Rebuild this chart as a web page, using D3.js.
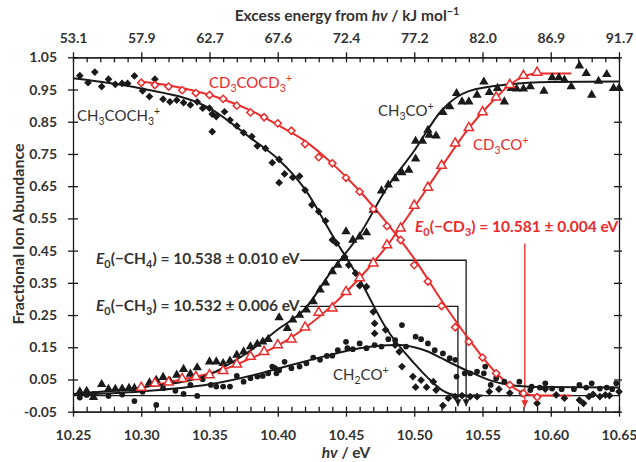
<!DOCTYPE html>
<html>
<head>
<meta charset="utf-8">
<script src="https://cdn.jsdelivr.net/npm/d3@7"></script>
<style>
  body { margin: 0; background: #fff; }
  text { font-family: Lato, "Open Sans", sans-serif; }
</style>
</head>
<body>
<script>
// axis ticks
var xTicks = [10.25, 10.30, 10.35, 10.40, 10.45, 10.50, 10.55, 10.60, 10.65];
var topLabels = ['53.1', '57.9', '62.7', '67.6', '72.4', '77.2', '82.0', '86.9', '91.7'];
var yTicks = [-0.05, 0.05, 0.15, 0.25, 0.35, 0.45, 0.55, 0.65, 0.75, 0.85, 0.95, 1.05];

// CH3COCH3+ (filled diamonds)
var acetoneHv = [10.255, 10.261, 10.266, 10.271, 10.276, 10.281, 10.286, 10.290, 10.295, 10.301,
  10.306, 10.310, 10.316, 10.321, 10.326, 10.331, 10.336, 10.341, 10.345, 10.350, 10.352, 10.352,
  10.355, 10.361, 10.365, 10.370, 10.375, 10.381, 10.385, 10.391, 10.396, 10.401, 10.401, 10.405,
  10.411, 10.416, 10.420, 10.425, 10.430, 10.435, 10.440, 10.443, 10.449, 10.452, 10.457, 10.460,
  10.465, 10.470, 10.471, 10.471, 10.479, 10.486, 10.489, 10.491, 10.499, 10.501, 10.505, 10.509,
  10.514, 10.516, 10.521, 10.525, 10.530, 10.535, 10.541, 10.546, 10.555, 10.562, 10.570, 10.579,
  10.590, 10.596, 10.604, 10.610, 10.621, 10.624, 10.628, 10.631, 10.636, 10.640, 10.643, 10.650];
var acetoneFrac = [0.993, 0.971, 1.004, 0.959, 0.982, 0.966, 0.969, 0.969, 0.992, 0.946,
  0.928, 0.982, 0.920, 0.912, 0.917, 0.909, 0.902, 0.912, 0.892, 0.892, 0.819, 0.874,
  0.866, 0.881, 0.855, 0.837, 0.816, 0.804, 0.775, 0.767, 0.723, 0.733, 0.661, 0.688,
  0.677, 0.681, 0.638, 0.592, 0.571, 0.542, 0.483, 0.473, 0.431, 0.405, 0.380, 0.341,
  0.338, 0.260, 0.224, 0.193, 0.204, 0.157, 0.136, 0.090, 0.059, 0.026, 0.048, 0.026,
  0.043, 0.017, -0.031, -0.008, -0.003, 0.000, -0.003, -0.003, 0.012, 0.020, 0.008, 0.007,
  -0.024, 0.020, 0.002, -0.008, -0.014, -0.024, -0.003, 0.004, -0.003, 0.002, 0.000, 0.012];

// CH3CO+ (filled triangles)
var acylHv = [10.255, 10.260, 10.265, 10.271, 10.276, 10.281, 10.286, 10.291, 10.295, 10.306,
  10.311, 10.316, 10.321, 10.326, 10.331, 10.336, 10.341, 10.350, 10.355, 10.360, 10.365, 10.370,
  10.375, 10.380, 10.385, 10.389, 10.393, 10.401, 10.407, 10.411, 10.416, 10.421, 10.426, 10.431,
  10.435, 10.440, 10.444, 10.449, 10.450, 10.455, 10.460, 10.465, 10.470, 10.476, 10.481, 10.486,
  10.491, 10.496, 10.501, 10.501, 10.506, 10.510, 10.511, 10.516, 10.521, 10.526, 10.531, 10.535,
  10.540, 10.546, 10.551, 10.555, 10.561, 10.566, 10.571, 10.575, 10.580, 10.585, 10.595, 10.601,
  10.606, 10.610, 10.615, 10.621, 10.626, 10.630, 10.635, 10.641, 10.646, 10.650];
var acylFrac = [0.012, 0.014, -0.005, 0.035, 0.020, 0.020, 0.021, 0.023, 0.023, 0.040,
  0.048, 0.057, 0.045, 0.064, 0.082, 0.067, 0.087, 0.105, 0.105, 0.100, 0.108, 0.126,
  0.136, 0.152, 0.160, 0.167, 0.175, 0.242, 0.209, 0.235, 0.250, 0.266, 0.292, 0.328,
  0.350, 0.385, 0.405, 0.426, 0.509, 0.483, 0.493, 0.506, 0.576, 0.636, 0.654, 0.674,
  0.692, 0.700, 0.735, 0.790, 0.790, 0.824, 0.809, 0.806, 0.879, 0.897, 0.938, 0.912,
  0.912, 0.933, 0.974, 0.941, 0.954, 0.912, 0.954, 0.952, 0.952, 0.959, 0.945, 0.987,
  0.987, 0.980, 0.959, 1.024, 1.000, 0.933, 0.976, 0.997, 0.954, 0.954];

// CH2CO+ (filled circles)
var keteneHv = [10.255, 10.260, 10.265, 10.276, 10.286, 10.295, 10.301, 10.311, 10.316, 10.325,
  10.331, 10.336, 10.341, 10.345, 10.351, 10.355, 10.360, 10.365, 10.370, 10.375, 10.380, 10.385,
  10.389, 10.393, 10.396, 10.398, 10.399, 10.401, 10.405, 10.410, 10.416, 10.421, 10.426, 10.431,
  10.436, 10.440, 10.444, 10.450, 10.451, 10.455, 10.460, 10.465, 10.471, 10.476, 10.481, 10.486,
  10.491, 10.494, 10.501, 10.505, 10.510, 10.515, 10.521, 10.526, 10.530, 10.531, 10.537, 10.541,
  10.546, 10.551, 10.552, 10.556, 10.560, 10.566, 10.577, 10.585, 10.586, 10.592, 10.596, 10.601,
  10.608, 10.617, 10.621, 10.626, 10.630, 10.636, 10.641, 10.645, 10.648];
var keteneFrac = [-0.006, 0.002, 0.005, -0.001, 0.003, -0.017, 0.012, -0.029, 0.023, 0.015,
  0.005, 0.033, -0.001, 0.051, 0.033, 0.028, 0.028, 0.028, 0.061, 0.043, 0.054, 0.059,
  0.061, 0.069, 0.090, 0.085, 0.069, 0.079, 0.105, 0.085, 0.090, 0.100, 0.118, 0.111,
  0.123, 0.124, 0.141, 0.167, 0.147, 0.144, 0.162, 0.147, 0.157, 0.152, 0.175, 0.172,
  0.219, 0.152, 0.183, 0.175, 0.162, 0.141, 0.131, 0.116, 0.111, 0.059, 0.069, 0.069,
  0.074, 0.069, 0.090, 0.033, 0.054, 0.043, 0.043, 0.017, 0.028, 0.025, 0.038, 0.022,
  0.020, 0.020, 0.033, 0.025, 0.038, 0.022, 0.025, 0.020, 0.038];

// deuterated: CD3COCD3+ (open diamonds), CD3CO+ (open triangles)
var hvD = [10.30, 10.31, 10.32, 10.33, 10.34, 10.35, 10.36, 10.37, 10.38, 10.39,
  10.40, 10.41, 10.42, 10.43, 10.44, 10.45, 10.46, 10.47, 10.48, 10.49,
  10.50, 10.51, 10.52, 10.53, 10.54, 10.55, 10.56, 10.57, 10.58, 10.59];
var cd3cocd3Frac = [0.971, 0.964, 0.959, 0.948, 0.939, 0.933, 0.921, 0.900, 0.879, 0.864,
  0.845, 0.822, 0.781, 0.740, 0.721, 0.676, 0.633, 0.579, 0.526, 0.483,
  0.405, 0.354, 0.278, 0.212, 0.167, 0.118, 0.069, 0.033, 0.007, -0.005];
var cd3coFrac = [0.025, 0.038, 0.041, 0.052, 0.058, 0.064, 0.077, 0.097, 0.121, 0.136,
  0.157, 0.175, 0.212, 0.258, 0.271, 0.322, 0.365, 0.411, 0.467, 0.519,
  0.590, 0.646, 0.714, 0.783, 0.831, 0.880, 0.926, 0.965, 0.993, 1.003];

// fitted curves (knots)
var fitAcetoneHv = [10.25, 10.30, 10.35, 10.38, 10.40, 10.42, 10.44, 10.46, 10.48, 10.50, 10.51, 10.52, 10.53, 10.55];
var fitAcetone = [0.985, 0.953, 0.892, 0.800, 0.735, 0.640, 0.498, 0.360, 0.205, 0.100, 0.055, 0.018, 0.002, 0.000];
var fitAcylHv = [10.25, 10.30, 10.35, 10.37, 10.38, 10.40, 10.42, 10.44, 10.46, 10.48, 10.50, 10.52, 10.54, 10.57, 10.60, 10.65];
var fitAcyl = [0.005, 0.025, 0.066, 0.112, 0.140, 0.205, 0.270, 0.390, 0.500, 0.645, 0.760, 0.885, 0.945, 0.966, 0.973, 0.975];
var fitKeteneHv = [10.25, 10.30, 10.35, 10.39, 10.41, 10.44, 10.46, 10.48, 10.49, 10.50, 10.51, 10.52, 10.53, 10.54, 10.555, 10.57, 10.59, 10.65];
var fitKetene = [0.003, 0.013, 0.035, 0.072, 0.095, 0.128, 0.147, 0.156, 0.157, 0.150, 0.137, 0.116, 0.095, 0.075, 0.048, 0.033, 0.027, 0.025];
var fitCd3cocd3Hv = [10.30, 10.33, 10.36, 10.38, 10.40, 10.42, 10.44, 10.46, 10.48, 10.50, 10.52, 10.54, 10.56, 10.57, 10.58, 10.59, 10.615];
var fitCd3cocd3 = [0.975, 0.955, 0.920, 0.885, 0.840, 0.790, 0.720, 0.635, 0.535, 0.425, 0.295, 0.175, 0.070, 0.033, 0.008, 0.000, 0.000];
var fitCd3coHv = [10.30, 10.33, 10.36, 10.38, 10.40, 10.42, 10.44, 10.46, 10.48, 10.50, 10.52, 10.54, 10.56, 10.57, 10.58, 10.59, 10.615];
var fitCd3co = [0.025, 0.050, 0.080, 0.115, 0.155, 0.210, 0.280, 0.365, 0.465, 0.585, 0.710, 0.830, 0.925, 0.965, 0.990, 1.000, 1.000];

var red = '#ec2b2b';
var ink = '#1a1a1a';
var textInk = '#333';

var svg = d3.select('body').append('svg').attr('width', 636).attr('height', 462);

var x = d3.scaleLinear().domain([10.25, 10.65]).range([73, 619]);
var y = d3.scaleLinear().domain([-0.05, 1.05]).range([411.7, 57.3]);

var minorX = d3.range(0, 41).map(function(i) { return 10.25 + i * 0.01; })
    .filter(function(v, i) { return i % 5 !== 0; });

function styleAxis(g) {
    g.selectAll('path.domain').attr('stroke', ink).attr('stroke-width', 1.3);
    g.selectAll('.tick line').attr('stroke', ink).attr('stroke-width', 1.3);
    g.selectAll('text').attr('fill', textInk).attr('font-size', 14).attr('font-weight', 'bold');
}

// bottom axis
var gb = svg.append('g').attr('transform', 'translate(0,' + y(-0.05) + ')')
    .call(d3.axisBottom(x).tickValues(xTicks).tickFormat(d3.format('.2f')).tickSizeOuter(0).tickPadding(12));
gb.selectAll('.tick line').attr('y1', -5).attr('y2', 5);
styleAxis(gb);
var gbm = svg.append('g').attr('transform', 'translate(0,' + y(-0.05) + ')')
    .call(d3.axisBottom(x).tickValues(minorX).tickFormat('').tickSize(-5).tickSizeOuter(0));
styleAxis(gbm);

// top axis
var gt = svg.append('g').attr('transform', 'translate(0,' + y(1.05) + ')')
    .call(d3.axisTop(x).tickValues(xTicks).tickFormat(function(d, i) { return topLabels[i]; }).tickSizeOuter(0).tickPadding(8));
gt.selectAll('.tick line').attr('y1', -5).attr('y2', 5);
styleAxis(gt);
var gtm = svg.append('g').attr('transform', 'translate(0,' + y(1.05) + ')')
    .call(d3.axisTop(x).tickValues(minorX).tickFormat('').tickSize(-5).tickSizeOuter(0));
styleAxis(gtm);

// left axis
var gl = svg.append('g').attr('transform', 'translate(' + x(10.25) + ',0)')
    .call(d3.axisLeft(y).tickValues(yTicks).tickFormat(function(d) { return d.toFixed(2); }).tickSizeOuter(0).tickPadding(10));
gl.selectAll('.tick line').attr('x1', -5).attr('x2', 5);
styleAxis(gl);

// right axis
var gr = svg.append('g').attr('transform', 'translate(' + x(10.65) + ',0)')
    .call(d3.axisRight(y).tickValues(yTicks).tickFormat('').tickSizeOuter(0));
gr.selectAll('.tick line').attr('x1', -5).attr('x2', 3);
styleAxis(gr);

// helper for sub/superscript text
function rich(sel, parts, size) {
    var cur = 0;
    parts.forEach(function(p) {
        var s = p[1] || '';
        var off = s === 'sub' ? size * 0.28 : s === 'sup' ? -size * 0.38 : 0;
        var ts = sel.append('tspan').text(p[0]).attr('dy', off - cur);
        cur = off;
        if (off !== 0) ts.attr('font-size', size * 0.7);
        if (s === 'i') ts.attr('font-style', 'italic');
    });
}

function label(px, py, parts, opt) {
    var t = svg.append('text').attr('x', px).attr('y', py)
        .attr('font-size', opt.size).attr('fill', opt.color)
        .attr('font-weight', opt.weight || 'normal')
        .attr('text-anchor', opt.anchor || 'start');
    rich(t, parts, opt.size);
    return t;
}

// axis titles
label(347, 21, [['Excess energy from '], ['hv', 'i'], [' / kJ mol'], ['\u22121', 'sup']],
    { size: 15.5, color: textInk, weight: 'bold', anchor: 'middle' });
label(346, 458, [['hv', 'i'], [' / eV']], { size: 15.5, color: textInk, weight: 'bold', anchor: 'middle' });
svg.append('text').attr('transform', 'translate(24,234) rotate(-90)')
    .attr('text-anchor', 'middle').attr('font-size', 16).attr('font-weight', 'bold')
    .attr('fill', textInk).text('Fractional Ion Abundance');

// zero line
svg.append('line').attr('x1', x(10.25)).attr('x2', x(10.65)).attr('y1', y(0)).attr('y2', y(0))
    .attr('stroke', ink).attr('stroke-width', 1.3);

// onset boxes and arrows
var defs = svg.append('defs');
[['arrK', ink], ['arrR', red]].forEach(function(a) {
    defs.append('marker').attr('id', a[0]).attr('viewBox', '0 0 10 10').attr('refX', 10).attr('refY', 5)
        .attr('markerWidth', 7).attr('markerHeight', 7).attr('markerUnits', 'userSpaceOnUse').attr('orient', 'auto')
        .append('path').attr('d', 'M0,0L10,5L0,10Z').attr('fill', a[1]);
});
var onsets = [
    { e: 10.538, level: 0.42, from: 10.4165, color: ink, m: 'arrK' },
    { e: 10.532, level: 0.277, from: 10.4165, color: ink, m: 'arrK' }
];
onsets.forEach(function(o) {
    svg.append('path')
        .attr('d', 'M' + x(o.from) + ',' + y(o.level) + 'H' + x(o.e) + 'V' + y(-0.033))
        .attr('fill', 'none').attr('stroke', o.color).attr('stroke-width', 1.3)
        .attr('marker-end', 'url(#' + o.m + ')');
});
svg.append('line').attr('x1', x(10.581)).attr('x2', x(10.581)).attr('y1', y(0.472)).attr('y2', y(-0.036))
    .attr('stroke', red).attr('stroke-width', 1.3).attr('marker-end', 'url(#arrR)');

// fit lines
var line = d3.line().x(function(d) { return x(d[0]); }).y(function(d) { return y(d[1]); }).curve(d3.curveMonotoneX);
function zip(a, b) { return a.map(function(v, i) { return [v, b[i]]; }); }
[[fitCd3cocd3Hv, fitCd3cocd3, red], [fitCd3coHv, fitCd3co, red],
 [fitAcetoneHv, fitAcetone, ink], [fitAcylHv, fitAcyl, ink], [fitKeteneHv, fitKetene, ink]].forEach(function(f) {
    svg.append('path').datum(zip(f[0], f[1])).attr('d', line)
        .attr('fill', 'none').attr('stroke', f[2]).attr('stroke-width', 2);
});

// markers
function points(hv, vals, type, size, filled, color, rot) {
    var sym = d3.symbol().type(type).size(size);
    svg.append('g').selectAll('path').data(zip(hv, vals)).enter().append('path')
        .attr('d', sym)
        .attr('transform', function(d) { return 'translate(' + x(d[0]) + ',' + y(d[1]) + ')' + (rot ? ' rotate(45)' : ''); })
        .attr('fill', filled ? color : '#fff')
        .attr('stroke', color)
        .attr('stroke-width', filled ? 0 : 1.5);
}
points(keteneHv, keteneFrac, d3.symbolCircle, 26, true, ink, false);
points(acetoneHv, acetoneFrac, d3.symbolSquare, 30, true, ink, true);
points(acylHv, acylFrac, d3.symbolTriangle, 38, true, ink, false);
points(hvD, cd3cocd3Frac, d3.symbolSquare, 26, false, red, true);
points(hvD, cd3coFrac, d3.symbolTriangle, 38, false, red, false);

// species labels
label(77, 121, [['CH'], ['3', 'sub'], ['COCH'], ['3', 'sub'], ['+', 'sup']], { size: 15, color: textInk });
label(209, 88, [['CD'], ['3', 'sub'], ['COCD'], ['3', 'sub'], ['+', 'sup']], { size: 15, color: red });
label(378, 116, [['CH'], ['3', 'sub'], ['CO'], ['+', 'sup']], { size: 15, color: textInk });
label(473, 150, [['CD'], ['3', 'sub'], ['CO'], ['+', 'sup']], { size: 15, color: red });
label(333, 380, [['CH'], ['2', 'sub'], ['CO'], ['+', 'sup']], { size: 15, color: textInk });

// onset labels
label(96, 264, [['E', 'i'], ['0', 'sub'], ['(\u2212CH'], ['4', 'sub'], [') = 10.538 \u00b1 0.010 eV']],
    { size: 15.5, color: textInk, weight: 'bold' });
label(96, 311, [['E', 'i'], ['0', 'sub'], ['(\u2212CH'], ['3', 'sub'], [') = 10.532 \u00b1 0.006 eV']],
    { size: 15.5, color: textInk, weight: 'bold' });
label(415, 232, [['E', 'i'], ['0', 'sub'], ['(\u2212CD'], ['3', 'sub'], [') = 10.581 \u00b1 0.004 eV']],
    { size: 15.5, color: red, weight: 'bold' });
</script>
</body>
</html>
